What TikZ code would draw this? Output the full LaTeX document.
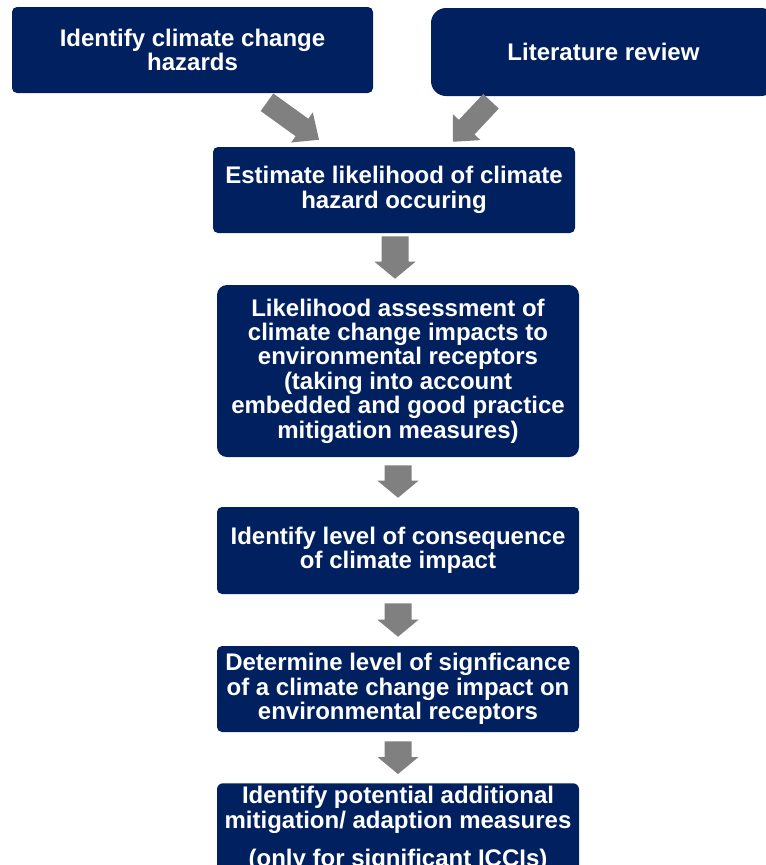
\documentclass[tikz,border=0pt]{standalone}
\usepackage{fontspec}
\setmainfont{Liberation Sans}
\usetikzlibrary{calc}

\definecolor{navy}{RGB}{0,32,96}
\definecolor{arrowgray}{RGB}{128,128,128}

% Block arrow from #1 to #2: shaft half-width #3, head half-width #4, head length #5
\newcommand\blockarrow[5]{%
  \coordinate (hb) at ($(#2)!#5!(#1)$);
  \fill[arrowgray]
    ($(#1)!#3!90:(#2)$) -- ($(hb)!#3!90:(#2)$) -- ($(hb)!#4!90:(#2)$) -- (#2)
    -- ($(hb)!#4!-90:(#2)$) -- ($(hb)!#3!-90:(#2)$) -- ($(#1)!#3!-90:(#2)$) -- cycle;}

\begin{document}
\begin{tikzpicture}[x=0.75pt,y=-0.75pt,
  stepbox/.style={fill=navy, text=white, align=center, inner sep=0pt,
    font=\bfseries\fontsize{18}{18.3}\selectfont, rounded corners=#1*0.75pt},
  stepbox/.default=5,
  boxsize/.style 2 args={minimum width=#1*0.75pt, minimum height=#2*0.75pt}]

\useasboundingbox (0,0) rectangle (766,865);
\clip (0,0) rectangle (766,865);

% Process steps
\node[stepbox, boxsize={361}{86}] (haz) at (192.5,50) {Identify climate change\\hazards};
\node[stepbox=15, boxsize={345}{88}] (lit) at (603.5,52) {Literature review};
\node[stepbox, boxsize={362}{86}] (est) at (394,190) {Estimate likelihood of climate\\hazard occuring};
\node[stepbox=10, boxsize={362}{172}] (lik) at (398,371)
  {Likelihood assessment of\\climate change impacts to\\environmental receptors\\(taking into account\\embedded and good practice\\mitigation measures)};
\node[stepbox, boxsize={362}{87}] (cons) at (398,550.5) {Identify level of consequence\\of climate impact};
\node[stepbox, boxsize={362}{86}] (det) at (398,689) {Determine level of signficance\\of a climate change impact on\\environmental receptors};
\node[stepbox=6, minimum width=362*0.75pt, inner ysep=3*0.75pt, anchor=north] (mit) at (398,783)
  {Identify potential additional\\mitigation/ adaption measures\\[10.5pt](only for significant ICCIs)};

% Arrow end points
\coordinate (d1s) at ($(haz.south)+(74.5,9)$);
\coordinate (d1e) at ($(est.north)+(-75,-7)$);
\coordinate (d2s) at ($(lit.south)+(-112.5,5)$);
\coordinate (d2e) at ($(est.north)+(59,-5)$);
\coordinate (v1s) at ($(est.south)+(1,3)$);
\coordinate (v1e) at ($(lik.north)+(-3,-6)$);
\coordinate (v2s) at ($(lik.south)+(0,8)$);
\coordinate (v2e) at ($(cons.north)+(0,-9)$);
\coordinate (v3s) at ($(cons.south)+(0,9)$);
\coordinate (v3e) at ($(det.north)+(0,-9)$);
\coordinate (v4s) at ($(det.south)+(0,9)$);
\coordinate (v4e) at ($(mit.north)+(0,-9)$);

% Connectors
\blockarrow{d1s}{d1e}{8.1pt}{13.9pt}{15.75pt}
\blockarrow{d2s}{d2e}{8pt}{14.2pt}{15pt}
\blockarrow{v1s}{v1e}{10.125pt}{15.375pt}{12.75pt}
\blockarrow{v2s}{v2e}{10.125pt}{15.375pt}{12.75pt}
\blockarrow{v3s}{v3e}{10.125pt}{15.375pt}{12.75pt}
\blockarrow{v4s}{v4e}{10.125pt}{15.375pt}{12.75pt}
\end{tikzpicture}
\end{document}
